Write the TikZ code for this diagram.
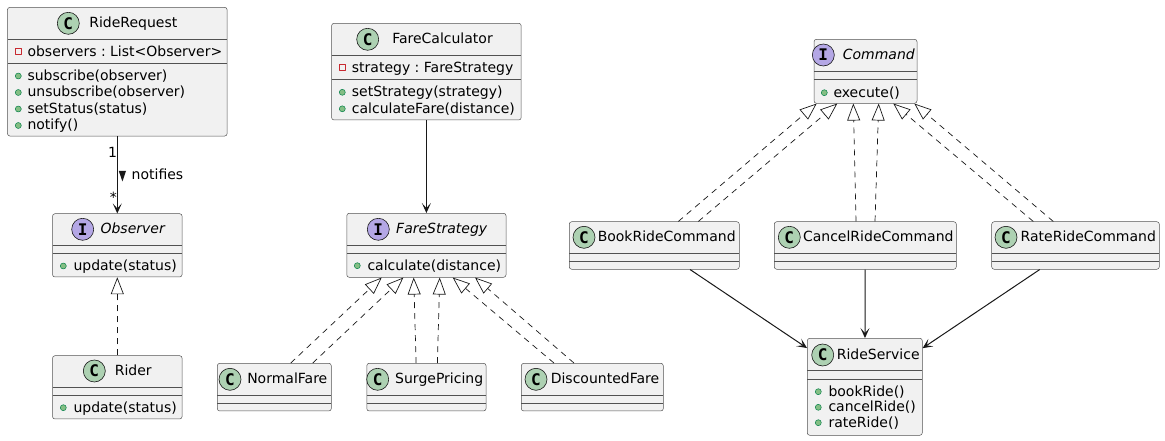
\documentclass[tikz,border=0pt]{standalone}
\usepackage{fontspec}
\setmainfont{DejaVu Sans}
\newfontfamily\iconfont{DejaVu Sans Mono}
\usetikzlibrary{arrows.meta}
\frenchspacing
\definecolor{boxfill}{HTML}{F1F1F1}
\definecolor{boxline}{HTML}{181818}
\definecolor{classgreen}{HTML}{ADD1B2}
\definecolor{ifacepurple}{HTML}{B4A7E5}
\definecolor{pubfill}{HTML}{84BE84}
\definecolor{publine}{HTML}{038048}
\definecolor{privline}{HTML}{C82930}
\begin{document}
\begin{tikzpicture}[>={Stealth[length=10bp,width=9bp,inset=5bp]},line join=bevel,
  font=\fontsize{14bp}{16.5bp}\selectfont,
  classbox/.style={draw=boxline!75,fill=boxfill,line width=0.5bp,rounded corners=2.5bp,inner sep=0pt},
  classicon/.style={circle,draw=boxline,line width=0.6bp,fill=classgreen,minimum size=22bp,inner sep=0pt,font=\iconfont\bfseries\fontsize{16bp}{16bp}\selectfont},
  ifaceicon/.style={classicon,fill=ifacepurple},
  title/.style={inner sep=0pt,text height=10bp,text depth=1bp},
  ititle/.style={title,font=\fontsize{14bp}{16.5bp}\selectfont\itshape},
  member/.style={anchor=west,inner sep=0pt,text height=10bp,text depth=1bp},
  pubicon/.style={circle,draw=publine,fill=pubfill,line width=0.5bp,minimum size=6bp,inner sep=0pt},
  privicon/.style={rectangle,draw=privline,line width=0.7bp,minimum size=6bp,inner sep=0pt},
  sepline/.style={draw=boxline!75,line width=0.5bp},
  assoc/.style={draw=boxline,line width=1bp,->},
  realize/.style={draw=boxline,line width=0.7bp,dash pattern=on 6bp off 5bp,-{Triangle[open,length=17bp,width=13bp]}},
]
\useasboundingbox (0bp,0bp) rectangle (1165bp,441bp);
%%
% observer part
\node (riderequest) at (117.3bp,369.3bp) [classbox,minimum width=219.7bp,minimum height=128.7bp] {};
  \node (riderequest_icon) at (68.3bp,417.7bp) [classicon] {C};
  \node (riderequest_name) at (133.3bp,417.7bp) [title] {RideRequest};
  \draw [sepline] (7.5bp,401.7bp) -- (227.1bp,401.7bp);
  \draw [sepline] (7.5bp,377.7bp) -- (227.1bp,377.7bp);
  \node (riderequest_a1i) at (18.3bp,389.3bp) [privicon] {};
  \node (riderequest_a1) at (27.3bp,389.3bp) [member] {observers : List<Observer>};
  \node (riderequest_m1i) at (18.3bp,365bp) [pubicon] {};
  \node (riderequest_m1) at (27.3bp,365bp) [member] {subscribe(observer)};
  \node (riderequest_m2i) at (18.3bp,348.5bp) [pubicon] {};
  \node (riderequest_m2) at (27.3bp,348.5bp) [member] {unsubscribe(observer)};
  \node (riderequest_m3i) at (18.3bp,332bp) [pubicon] {};
  \node (riderequest_m3) at (27.3bp,332bp) [member] {setStatus(status)};
  \node (riderequest_m4i) at (18.3bp,315.5bp) [pubicon] {};
  \node (riderequest_m4) at (27.3bp,315.5bp) [member] {notify()};
\node (observer) at (117.3bp,195.65bp) [classbox,minimum width=129.6bp,minimum height=63.3bp] {};
  \node (observer_icon) at (82.7bp,211.7bp) [ifaceicon] {I};
  \node (observer_name) at (132.7bp,211.7bp) [ititle] {Observer};
  \draw [sepline] (52.7bp,196bp) -- (182.1bp,196bp);
  \draw [sepline] (52.7bp,187.7bp) -- (182.1bp,187.7bp);
  \node (observer_m1i) at (63.3bp,175bp) [pubicon] {};
  \node (observer_m1) at (73.3bp,175bp) [member] {update(status)};
\node (rider) at (117.3bp,53.65bp) [classbox,minimum width=129.6bp,minimum height=63.3bp] {};
  \node (rider_icon) at (94.3bp,70bp) [classicon] {C};
  \node (rider_name) at (133.3bp,70bp) [title] {Rider};
  \draw [sepline] (52.7bp,53.7bp) -- (182.1bp,53.7bp);
  \draw [sepline] (52.7bp,45.3bp) -- (182.1bp,45.3bp);
  \node (rider_m1i) at (63.3bp,33.3bp) [pubicon] {};
  \node (rider_m1) at (73.3bp,33.3bp) [member] {update(status)};
  \draw [assoc] (riderequest) -- (observer);
  \node (notifies_one) at (112.5bp,288bp) [title] {1};
  \node (notifies_many) at (113.3bp,242.5bp) [title] {*};
  \fill [boxline] (118.8bp,270bp) -- (126bp,270bp) -- (122.4bp,259.5bp) -- cycle;
  \node (notifies_label) at (131.5bp,265.5bp) [member] {notifies};
  \draw [realize] (rider) -- (observer);
%
% strategy part
\node (farecalc) at (426.4bp,369.35bp) [classbox,minimum width=189.6bp,minimum height=96.7bp] {};
  \node (farecalc_icon) at (367.7bp,401.7bp) [classicon] {C};
  \node (farecalc_name) at (442.5bp,401.7bp) [title] {FareCalculator};
  \draw [sepline] (331.6bp,386bp) -- (521.2bp,386bp);
  \draw [sepline] (331.6bp,361.7bp) -- (521.2bp,361.7bp);
  \node (farecalc_a1i) at (342.3bp,373.3bp) [privicon] {};
  \node (farecalc_a1) at (351.7bp,373.3bp) [member] {strategy : FareStrategy};
  \node (farecalc_m1i) at (342.3bp,348.7bp) [pubicon] {};
  \node (farecalc_m1) at (351.7bp,348.7bp) [member] {setStrategy(strategy)};
  \node (farecalc_m2i) at (342.3bp,332.2bp) [pubicon] {};
  \node (farecalc_m2) at (351.7bp,332.2bp) [member] {calculateFare(distance)};
\node (farestrategy) at (426.4bp,195.7bp) [classbox,minimum width=159.3bp,minimum height=64bp] {};
  \node (farestrategy_icon) at (378.3bp,211.7bp) [ifaceicon] {I};
  \node (farestrategy_name) at (441.7bp,211.7bp) [ititle] {FareStrategy};
  \draw [sepline] (346.8bp,196bp) -- (506bp,196bp);
  \draw [sepline] (346.8bp,187.7bp) -- (506bp,187.7bp);
  \node (farestrategy_m1i) at (357.3bp,175.3bp) [pubicon] {};
  \node (farestrategy_m1) at (367.3bp,175.3bp) [member] {calculate(distance)};
\node (normalfare) at (274.3bp,53.85bp) [classbox,minimum width=114bp,minimum height=47.7bp] {};
  \node (normalfare_icon) at (230bp,61.7bp) [classicon] {C};
  \node (normalfare_name) at (287.3bp,61.7bp) [title] {NormalFare};
  \draw [sepline] (217.3bp,46bp) -- (331.3bp,46bp);
  \draw [sepline] (217.3bp,37.7bp) -- (331.3bp,37.7bp);
\node (surgepricing) at (426.4bp,53.85bp) [classbox,minimum width=119.3bp,minimum height=47.7bp] {};
  \node (surgepricing_icon) at (377.7bp,61.7bp) [classicon] {C};
  \node (surgepricing_name) at (439.2bp,61.7bp) [title] {SurgePricing};
  \draw [sepline] (366.8bp,46bp) -- (486bp,46bp);
  \draw [sepline] (366.8bp,37.7bp) -- (486bp,37.7bp);
\node (discountedfare) at (592.3bp,53.85bp) [classbox,minimum width=142bp,minimum height=47.7bp] {};
  \node (discountedfare_icon) at (536bp,61.7bp) [classicon] {C};
  \node (discountedfare_name) at (605bp,61.7bp) [title] {DiscountedFare};
  \draw [sepline] (521.3bp,46bp) -- (663.3bp,46bp);
  \draw [sepline] (521.3bp,37.7bp) -- (663.3bp,37.7bp);
  \draw [assoc] (farecalc) -- (farestrategy);
  \draw [realize] ([xshift=16.4bp]normalfare.north) -- ([xshift=-44.7bp]farestrategy.south);
  \draw [realize] ([xshift=38.4bp]normalfare.north) -- ([xshift=-23bp]farestrategy.south);
  \draw [realize] ([xshift=-10.3bp]surgepricing.north) -- ([xshift=-12.7bp]farestrategy.south);
  \draw [realize] ([xshift=11bp]surgepricing.north) -- ([xshift=13.3bp]farestrategy.south);
  \draw [realize] ([xshift=-38.3bp]discountedfare.north) -- ([xshift=26.3bp]farestrategy.south);
  \draw [realize] ([xshift=-18.3bp]discountedfare.north) -- ([xshift=48.6bp]farestrategy.south);
%
% command part
\node (command) at (865.5bp,369.7bp) [classbox,minimum width=103bp,minimum height=64bp] {};
  \node (command_icon) at (823.3bp,386bp) [ifaceicon] {I};
  \node (command_name) at (878.8bp,386bp) [ititle] {Command};
  \draw [sepline] (814bp,369.3bp) -- (917bp,369.3bp);
  \draw [sepline] (814bp,361.7bp) -- (917bp,361.7bp);
  \node (command_m1i) at (824.3bp,348.3bp) [pubicon] {};
  \node (command_m1) at (833.3bp,348.3bp) [member] {execute()};
\node (bookride) at (654.3bp,195.5bp) [classbox,minimum width=170bp,minimum height=47.6bp] {};
  \node (bookride_icon) at (584bp,203.7bp) [classicon] {C};
  \node (bookride_name) at (666.7bp,203.7bp) [title] {BookRideCommand};
  \draw [sepline] (569.3bp,187.7bp) -- (739.3bp,187.7bp);
  \draw [sepline] (569.3bp,179.7bp) -- (739.3bp,179.7bp);
\node (cancelride) at (865.3bp,195.5bp) [classbox,minimum width=182bp,minimum height=47.6bp] {};
  \node (cancelride_icon) at (789.3bp,203.7bp) [classicon] {C};
  \node (cancelride_name) at (878.3bp,203.7bp) [title] {CancelRideCommand};
  \draw [sepline] (774.3bp,187.7bp) -- (956.3bp,187.7bp);
  \draw [sepline] (774.3bp,179.7bp) -- (956.3bp,179.7bp);
\node (rateride) at (1075.5bp,195.5bp) [classbox,minimum width=167.6bp,minimum height=47.6bp] {};
  \node (rateride_icon) at (1006bp,203.7bp) [classicon] {C};
  \node (rateride_name) at (1088.3bp,203.7bp) [title] {RateRideCommand};
  \draw [sepline] (991.7bp,187.7bp) -- (1159.3bp,187.7bp);
  \draw [sepline] (991.7bp,179.7bp) -- (1159.3bp,179.7bp);
\node (rideservice) at (864.8bp,54.2bp) [classbox,minimum width=115bp,minimum height=97bp] {};
  \node (rideservice_icon) at (822.7bp,86bp) [classicon] {C};
  \node (rideservice_name) at (878.2bp,86bp) [title] {RideService};
  \draw [sepline] (807.3bp,70.3bp) -- (922.3bp,70.3bp);
  \draw [sepline] (807.3bp,62bp) -- (922.3bp,62bp);
  \node (rideservice_m1i) at (818.3bp,49.3bp) [pubicon] {};
  \node (rideservice_m1) at (828.3bp,49.3bp) [member] {bookRide()};
  \node (rideservice_m2i) at (818.3bp,33.7bp) [pubicon] {};
  \node (rideservice_m2) at (828.3bp,33.7bp) [member] {cancelRide()};
  \node (rideservice_m3i) at (818.3bp,18.3bp) [pubicon] {};
  \node (rideservice_m3) at (828.3bp,18.3bp) [member] {rateRide()};
  \draw [realize] ([xshift=24bp]bookride.north) -- ([xshift=-48.8bp]command.south);
  \draw [realize] ([xshift=44bp]bookride.north) -- ([xshift=-28.2bp]command.south);
  \draw [realize] ([xshift=-9.3bp]cancelride.north) -- ([xshift=-12.2bp]command.south);
  \draw [realize] ([xshift=9.7bp]cancelride.north) -- ([xshift=13.2bp]command.south);
  \draw [realize] ([xshift=-42.2bp]rateride.north) -- ([xshift=27.8bp]command.south);
  \draw [realize] ([xshift=-22.2bp]rateride.north) -- ([xshift=48.8bp]command.south);
  \draw [assoc] (bookride) -- (rideservice);
  \draw [assoc] (cancelride) -- (rideservice);
  \draw [assoc] (rateride) -- (rideservice);
%
\end{tikzpicture}
\end{document}
